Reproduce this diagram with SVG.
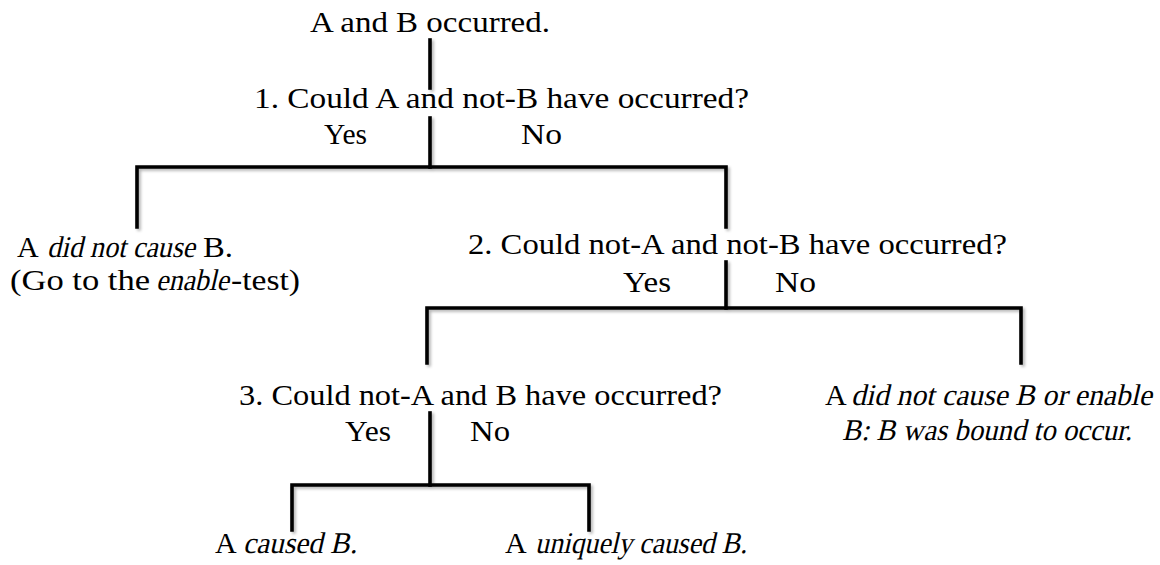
<svg xmlns="http://www.w3.org/2000/svg" width="1160" height="565" viewBox="0 0 1160 565">
<defs>
<filter id="sh" x="-10%" y="-10%" width="120%" height="120%">
<feGaussianBlur in="SourceAlpha" stdDeviation="1.6"/>
<feOffset dx="2" dy="2" result="b"/>
<feComponentTransfer><feFuncA type="linear" slope="0.3"/></feComponentTransfer>
<feMerge><feMergeNode/><feMergeNode in="SourceGraphic"/></feMerge>
</filter>
</defs>
<style>
text{font-family:"Liberation Serif","Times New Roman",serif;font-size:30px;fill:#000}
.ln{stroke:#000;stroke-width:3.6;fill:none;stroke-linecap:square}
</style>
<rect width="1160" height="565" fill="#fff"/>
<g id="connectors" filter="url(#sh)">
<path class="ln" d="M430 40V88"/>
<path class="ln" d="M430 118V167"/>
<path class="ln" d="M137 227V167H726V227"/>
<path class="ln" d="M726 262V308"/>
<path class="ln" d="M427 363V308H1021V363"/>
<path class="ln" d="M430 413V485"/>
<path class="ln" d="M292 530V485H589V530"/>
</g>
<g id="n0"><text x="310" y="32" textLength="240" lengthAdjust="spacingAndGlyphs">A and B occurred.</text></g>
<g id="q1">
<text x="254" y="108" textLength="495" lengthAdjust="spacingAndGlyphs">1. Could A and not-B have occurred?</text>
<text x="324" y="144" textLength="43" lengthAdjust="spacingAndGlyphs">Yes</text>
<text x="521" y="144" textLength="41" lengthAdjust="spacingAndGlyphs">No</text>
</g>
<g id="r1">
<text x="17" y="257">A</text>
<text transform="translate(47 257) skewX(-13)" textLength="148" lengthAdjust="spacingAndGlyphs">did not cause</text>
<text x="203" y="257" textLength="30" lengthAdjust="spacingAndGlyphs">B.</text>
<text x="10" y="290" textLength="140" lengthAdjust="spacingAndGlyphs">(Go to the</text>
<text transform="translate(156 290) skewX(-13)" textLength="73" lengthAdjust="spacingAndGlyphs">enable</text>
<text x="231" y="290" textLength="69" lengthAdjust="spacingAndGlyphs">-test)</text>
</g>
<g id="q2">
<text x="468" y="254" textLength="539" lengthAdjust="spacingAndGlyphs">2. Could not-A and not-B have occurred?</text>
<text x="623" y="292" textLength="48" lengthAdjust="spacingAndGlyphs">Yes</text>
<text x="775" y="292" textLength="41" lengthAdjust="spacingAndGlyphs">No</text>
</g>
<g id="q3">
<text x="239" y="405" textLength="483" lengthAdjust="spacingAndGlyphs">3. Could not-A and B have occurred?</text>
<text x="345" y="441" textLength="46" lengthAdjust="spacingAndGlyphs">Yes</text>
<text x="470" y="441" textLength="40" lengthAdjust="spacingAndGlyphs">No</text>
</g>
<g id="r2">
<text x="825" y="405">A</text>
<text transform="translate(851 405) skewX(-13)" textLength="301" lengthAdjust="spacingAndGlyphs">did not cause B or enable</text>
<text transform="translate(842 440) skewX(-13)" textLength="290" lengthAdjust="spacingAndGlyphs">B: B was bound to occur.</text>
</g>
<g id="r3">
<text x="215" y="553">A</text>
<text transform="translate(243 553) skewX(-13)" textLength="114" lengthAdjust="spacingAndGlyphs">caused B.</text>
</g>
<g id="r4">
<text x="505" y="553">A</text>
<text transform="translate(535 553) skewX(-13)" textLength="212" lengthAdjust="spacingAndGlyphs">uniquely caused B.</text>
</g>
</svg>
